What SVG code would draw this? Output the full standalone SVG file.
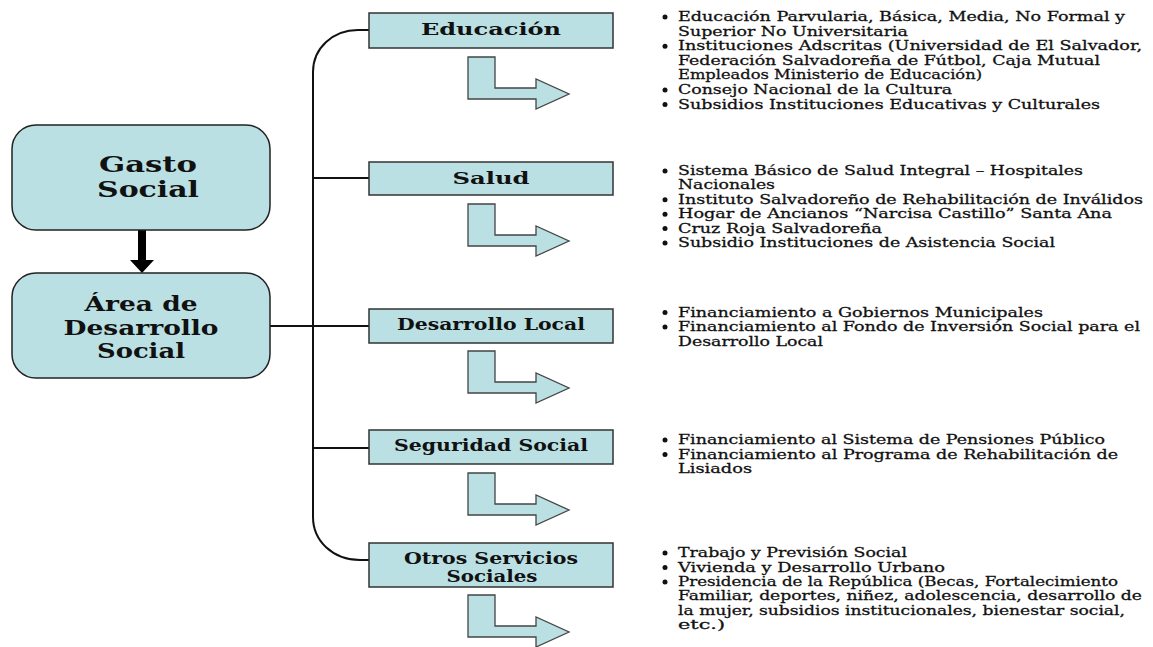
<svg xmlns="http://www.w3.org/2000/svg" width="1153" height="647" viewBox="0 0 1153 647">
<style>
.box{fill:#BAE0E3;stroke:#222;stroke-width:1.5}
.cat{fill:#BAE0E3;stroke:#333;stroke-width:1.5}
.bent{fill:#BAE0E3;stroke:#444;stroke-width:1.3;stroke-linejoin:miter}
.big{font-family:"DejaVu Serif","Liberation Serif",serif;font-weight:bold;fill:#111;text-anchor:middle}
.lbl{font-family:"DejaVu Serif","Liberation Serif",serif;font-weight:bold;font-size:16px;fill:#111;text-anchor:middle}
.bul{font-family:"DejaVu Serif","Liberation Serif",serif;font-size:13.5px;fill:#111;stroke:#111;stroke-width:0.3}
.dot{fill:#111;stroke:none}
.con{fill:none;stroke:#111;stroke-width:2}
</style>
<defs>
<polygon id="bentArrow" class="bent" points="468,0 495,0 495,31 536,31 536,22 569,37 536,52 536,42 468,42"/>
</defs>
<rect width="1153" height="647" fill="#fff"/>

<g id="connectors">
<path class="con" d="M369,30 L358,30 C333,30 313,48 313,72 L313,517 C313,541 333,560 360,560 L369,560"/>
<line class="con" x1="313" y1="178" x2="369" y2="178"/>
<line class="con" x1="270" y1="326" x2="369" y2="326"/>
<line class="con" x1="313" y1="448" x2="369" y2="448"/>
<polygon points="138,230 146,230 146,260 154,260 142,273 130,260 138,260" fill="#000"/>
</g>

<g id="gasto-social">
<rect class="box" x="12" y="125" width="258" height="105" rx="24"/>
<text class="big" font-size="23" x="148" y="172" textLength="98" lengthAdjust="spacingAndGlyphs">Gasto</text>
<text class="big" font-size="23" x="148" y="197" textLength="102" lengthAdjust="spacingAndGlyphs">Social</text>
</g>

<g id="area-desarrollo-social">
<rect class="box" x="12" y="273" width="258" height="105" rx="24"/>
<text class="big" font-size="21" x="141" y="311" textLength="113" lengthAdjust="spacingAndGlyphs">Área de</text>
<text class="big" font-size="21" x="141" y="335" textLength="155" lengthAdjust="spacingAndGlyphs">Desarrollo</text>
<text class="big" font-size="21" x="141" y="358" textLength="88" lengthAdjust="spacingAndGlyphs">Social</text>
</g>

<g id="educacion">
<rect class="cat" x="369" y="13" width="244" height="35"/>
<text class="lbl" x="491" y="35" textLength="140" lengthAdjust="spacingAndGlyphs">Educación</text>
<use href="#bentArrow" transform="translate(0,57)"/>
<g class="bul">
<circle class="dot" cx="665" cy="17" r="2.5"/>
<text x="678" y="21" textLength="447" lengthAdjust="spacingAndGlyphs">Educación Parvularia, Básica, Media, No Formal y</text>
<text x="678" y="35.6" textLength="230" lengthAdjust="spacingAndGlyphs">Superior No Universitaria</text>
<circle class="dot" cx="665" cy="46.2" r="2.5"/>
<text x="678" y="50.2" textLength="464" lengthAdjust="spacingAndGlyphs">Instituciones Adscritas (Universidad de El Salvador,</text>
<text x="678" y="64.8" textLength="422" lengthAdjust="spacingAndGlyphs">Federación Salvadoreña de Fútbol, Caja Mutual</text>
<text x="678" y="79.4" textLength="304" lengthAdjust="spacingAndGlyphs">Empleados Ministerio de Educación)</text>
<circle class="dot" cx="665" cy="90" r="2.5"/>
<text x="678" y="94" textLength="274" lengthAdjust="spacingAndGlyphs">Consejo Nacional de la Cultura</text>
<circle class="dot" cx="665" cy="104.6" r="2.5"/>
<text x="678" y="108.6" textLength="422" lengthAdjust="spacingAndGlyphs">Subsidios Instituciones Educativas y Culturales</text>
</g>
</g>

<g id="salud">
<rect class="cat" x="369" y="162" width="244" height="33"/>
<text class="lbl" x="491" y="184" textLength="77" lengthAdjust="spacingAndGlyphs">Salud</text>
<use href="#bentArrow" transform="translate(0,204)"/>
<g class="bul">
<circle class="dot" cx="665" cy="171" r="2.5"/>
<text x="678" y="175" textLength="405" lengthAdjust="spacingAndGlyphs">Sistema Básico de Salud Integral – Hospitales</text>
<text x="678" y="189.4" textLength="97" lengthAdjust="spacingAndGlyphs">Nacionales</text>
<circle class="dot" cx="665" cy="199.8" r="2.5"/>
<text x="678" y="203.8" textLength="465" lengthAdjust="spacingAndGlyphs">Instituto Salvadoreño de Rehabilitación de Inválidos</text>
<circle class="dot" cx="665" cy="214.2" r="2.5"/>
<text x="678" y="218.2" textLength="434" lengthAdjust="spacingAndGlyphs">Hogar de Ancianos “Narcisa Castillo” Santa Ana</text>
<circle class="dot" cx="665" cy="228.6" r="2.5"/>
<text x="678" y="232.6" textLength="204" lengthAdjust="spacingAndGlyphs">Cruz Roja Salvadoreña</text>
<circle class="dot" cx="665" cy="243" r="2.5"/>
<text x="678" y="247" textLength="377" lengthAdjust="spacingAndGlyphs">Subsidio Instituciones de Asistencia Social</text>
</g>
</g>

<g id="desarrollo-local">
<rect class="cat" x="369" y="309" width="244" height="34"/>
<text class="lbl" x="491" y="330" textLength="188" lengthAdjust="spacingAndGlyphs">Desarrollo Local</text>
<use href="#bentArrow" transform="translate(0,351)"/>
<g class="bul">
<circle class="dot" cx="665" cy="312.5" r="2.5"/>
<text x="678" y="316.5" textLength="365" lengthAdjust="spacingAndGlyphs">Financiamiento a Gobiernos Municipales</text>
<circle class="dot" cx="665" cy="327" r="2.5"/>
<text x="678" y="331" textLength="462" lengthAdjust="spacingAndGlyphs">Financiamiento al Fondo de Inversión Social para el</text>
<text x="678" y="345.5" textLength="145" lengthAdjust="spacingAndGlyphs">Desarrollo Local</text>
</g>
</g>

<g id="seguridad-social">
<rect class="cat" x="369" y="430" width="244" height="34"/>
<text class="lbl" x="491" y="451" textLength="194" lengthAdjust="spacingAndGlyphs">Seguridad Social</text>
<use href="#bentArrow" transform="translate(0,473)"/>
<g class="bul">
<circle class="dot" cx="665" cy="440" r="2.5"/>
<text x="678" y="444" textLength="427" lengthAdjust="spacingAndGlyphs">Financiamiento al Sistema de Pensiones Público</text>
<circle class="dot" cx="665" cy="454.5" r="2.5"/>
<text x="678" y="458.5" textLength="440" lengthAdjust="spacingAndGlyphs">Financiamiento al Programa de Rehabilitación de</text>
<text x="678" y="473" textLength="74" lengthAdjust="spacingAndGlyphs">Lisiados</text>
</g>
</g>

<g id="otros-servicios-sociales">
<rect class="cat" x="369" y="543" width="244" height="44"/>
<text class="lbl" x="491" y="564" textLength="174" lengthAdjust="spacingAndGlyphs">Otros Servicios</text>
<text class="lbl" x="492" y="582" textLength="91" lengthAdjust="spacingAndGlyphs">Sociales</text>
<use href="#bentArrow" transform="translate(0,595)"/>
<g class="bul">
<circle class="dot" cx="665" cy="553" r="2.5"/>
<text x="678" y="557" textLength="229" lengthAdjust="spacingAndGlyphs">Trabajo y Previsión Social</text>
<circle class="dot" cx="665" cy="567.5" r="2.5"/>
<text x="678" y="571.5" textLength="267" lengthAdjust="spacingAndGlyphs">Vivienda y Desarrollo Urbano</text>
<circle class="dot" cx="665" cy="582" r="2.5"/>
<text x="678" y="586" textLength="440" lengthAdjust="spacingAndGlyphs">Presidencia de la República (Becas, Fortalecimiento</text>
<text x="678" y="600.3" textLength="464" lengthAdjust="spacingAndGlyphs">Familiar, deportes, niñez, adolescencia, desarrollo de</text>
<text x="678" y="614.6" textLength="447" lengthAdjust="spacingAndGlyphs">la mujer, subsidios institucionales, bienestar social,</text>
<text x="678" y="629" textLength="47" lengthAdjust="spacingAndGlyphs">etc.)</text>
</g>
</g>
</svg>
